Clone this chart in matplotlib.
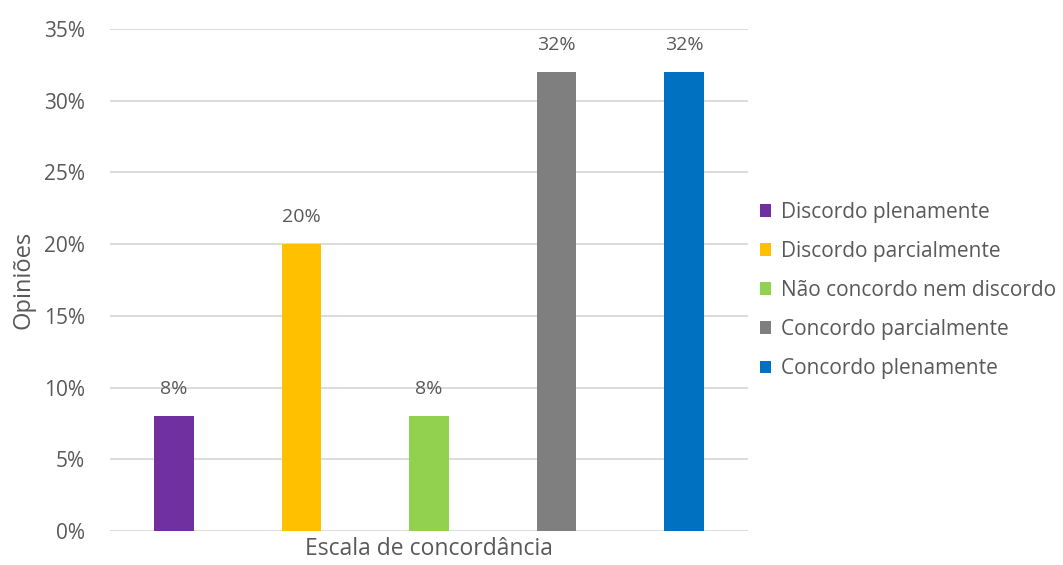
import matplotlib
matplotlib.use("Agg")
import matplotlib.pyplot as plt
from matplotlib.patches import Patch
from matplotlib.ticker import PercentFormatter

# data
categorias = ["Discordo plenamente", "Discordo parcialmente", "Não concordo nem discordo",
              "Concordo parcialmente", "Concordo plenamente"]
valores = [8, 20, 8, 32, 32]
cores = ["#7030A0", "#FFC000", "#92D050", "#7F7F7F", "#0070C0"]
yticks = [0, 5, 10, 15, 20, 25, 30, 35]

plt.rcParams['font.family'] = ['Open Sans', 'DejaVu Sans']
cinza = "#595959"

fig = plt.figure(figsize=(10.63, 5.65), dpi=100)
ax = fig.add_axes([0.1035, 0.0602, 0.6002, 0.8885])

xs = range(len(valores))
ax.bar(xs, valores, width=0.31, color=cores, zorder=3)
for x, v in zip(xs, valores):
    ax.annotate(f"{v}%", (x, v), xytext=(0, 13), textcoords="offset points",
                ha="center", va="bottom", fontsize=14, color=cinza)

ax.set_xlim(-0.5, 4.5)
ax.set_ylim(0, 35)
ax.set_yticks(yticks)
ax.yaxis.set_major_formatter(PercentFormatter(decimals=0))
ax.set_xticks([])
ax.grid(axis="y", color="#D9D9D9", linewidth=1.3, zorder=0)
for s in ax.spines.values():
    s.set_visible(False)
ax.tick_params(axis="y", length=0, pad=18, labelsize=15, labelcolor=cinza)

ax.set_ylabel("Opiniões", fontsize=17, color=cinza, labelpad=6)
ax.set_xlabel("Escala de concordância", fontsize=16.5, color=cinza, labelpad=4)

handles = [Patch(facecolor=c, label=l) for c, l in zip(cores, categorias)]
fig.legend(handles=handles, loc="center left", bbox_to_anchor=(0.707, 0.486),
           frameon=False, fontsize=15, labelcolor=cinza, handlelength=0.55,
           handleheight=0.55, handletextpad=0.45, labelspacing=0.87,
           borderaxespad=0)

fig.savefig("out.png", dpi=100)
